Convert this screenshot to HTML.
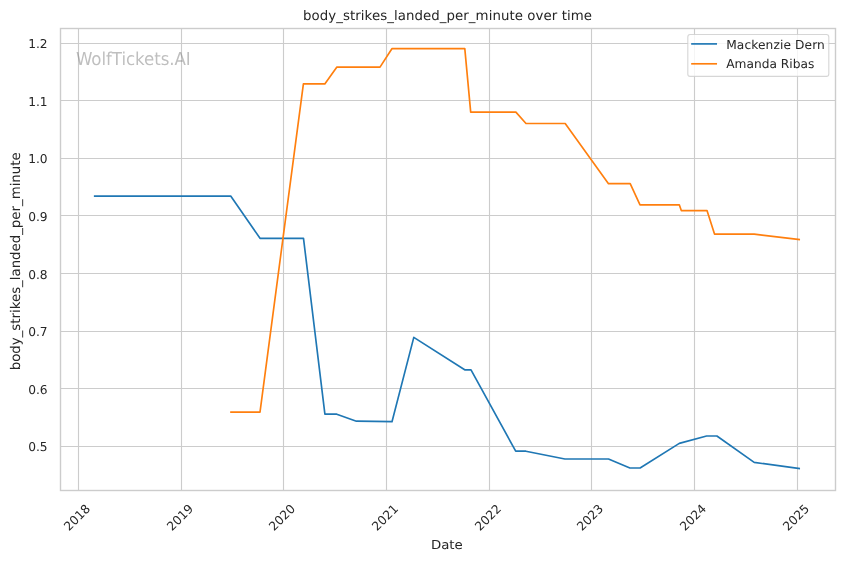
<!DOCTYPE html>
<html><head><meta charset="utf-8"><title>body_strikes_landed_per_minute over time</title>
<style>
html,body{margin:0;padding:0;background:#fff;}
body{width:844px;height:561px;overflow:hidden;}
svg{display:block;will-change:transform;}
text{text-rendering:geometricPrecision;font-family:"DejaVu Sans","Liberation Sans",sans-serif;fill:#262626;}
.t{font-size:12.22px;}
.l{font-size:13.33px;}
</style></head><body>
<svg width="844" height="561" viewBox="0 0 844 561">
<rect width="844" height="561" fill="#fff"/>
<g stroke="#cccccc" stroke-width="1.11" fill="none">
<line x1="78.5" y1="28.5" x2="78.5" y2="490.5"/>
<line x1="181.5" y1="28.5" x2="181.5" y2="490.5"/>
<line x1="283.5" y1="28.5" x2="283.5" y2="490.5"/>
<line x1="386.5" y1="28.5" x2="386.5" y2="490.5"/>
<line x1="489.5" y1="28.5" x2="489.5" y2="490.5"/>
<line x1="591.5" y1="28.5" x2="591.5" y2="490.5"/>
<line x1="694.5" y1="28.5" x2="694.5" y2="490.5"/>
<line x1="797.5" y1="28.5" x2="797.5" y2="490.5"/>
<line x1="60.5" y1="43.5" x2="835.5" y2="43.5"/>
<line x1="60.5" y1="100.5" x2="835.5" y2="100.5"/>
<line x1="60.5" y1="158.5" x2="835.5" y2="158.5"/>
<line x1="60.5" y1="215.5" x2="835.5" y2="215.5"/>
<line x1="60.5" y1="273.5" x2="835.5" y2="273.5"/>
<line x1="60.5" y1="331.5" x2="835.5" y2="331.5"/>
<line x1="60.5" y1="388.5" x2="835.5" y2="388.5"/>
<line x1="60.5" y1="446.5" x2="835.5" y2="446.5"/>
</g>
<polyline points="94.7,196.1 230.7,196.1 260.0,238.3 303.5,238.3 324.9,414.2 336.8,414.2 356.4,421.2 392.0,421.7 413.8,337.4 464.7,369.8 471.0,369.8 515.7,451.2 525.9,451.2 564.9,459.0 608.5,459.0 629.9,468.0 640.1,468.0 679.3,443.4 706.6,436.0 716.9,436.0 754.2,462.4 799.2,468.5" fill="none" stroke="#1f77b4" stroke-width="1.67" stroke-linecap="square" stroke-linejoin="round"/>
<polyline points="231.0,412.1 260.0,412.1 303.4,83.9 324.8,83.9 336.9,67.1 380.0,67.1 391.9,48.7 464.8,48.7 470.7,112.1 515.9,112.1 526.0,123.5 565.2,123.5 608.5,183.7 630.2,183.7 640.0,204.8 679.3,204.8 681.3,210.6 707.0,210.6 714.5,234.1 754.2,234.1 799.2,239.6" fill="none" stroke="#ff7f0e" stroke-width="1.67" stroke-linecap="square" stroke-linejoin="round"/>
<rect x="60.5" y="28.5" width="775.0" height="462.0" fill="none" stroke="#cccccc" stroke-width="1.39"/>
<text transform="translate(75.9,65.1) scale(1,1.07)" font-size="16.67px" style="fill:#808080" opacity="0.5" letter-spacing="-0.07">WolfTickets.AI</text>
<text class="l" x="447.5" y="20" text-anchor="middle" letter-spacing="0.07">body_strikes_landed_per_minute over time</text>
<text class="t" x="47.6" y="48.0" text-anchor="end">1.2</text>
<text class="t" x="47.6" y="105.6" text-anchor="end">1.1</text>
<text class="t" x="47.6" y="163.0" text-anchor="end">1.0</text>
<text class="t" x="47.6" y="221.0" text-anchor="end">0.9</text>
<text class="t" x="47.6" y="278.6" text-anchor="end">0.8</text>
<text class="t" x="47.6" y="336.0" text-anchor="end">0.7</text>
<text class="t" x="47.6" y="393.7" text-anchor="end">0.6</text>
<text class="t" x="47.6" y="451.0" text-anchor="end">0.5</text>
<text class="t" transform="translate(77.0,517.3) rotate(-45)" x="0" y="4.4" text-anchor="middle">2018</text>
<text class="t" transform="translate(180.0,517.3) rotate(-45)" x="0" y="4.4" text-anchor="middle">2019</text>
<text class="t" transform="translate(282.0,517.3) rotate(-45)" x="0" y="4.4" text-anchor="middle">2020</text>
<text class="t" transform="translate(385.0,517.3) rotate(-45)" x="0" y="4.4" text-anchor="middle">2021</text>
<text class="t" transform="translate(488.0,517.3) rotate(-45)" x="0" y="4.4" text-anchor="middle">2022</text>
<text class="t" transform="translate(590.0,517.3) rotate(-45)" x="0" y="4.4" text-anchor="middle">2023</text>
<text class="t" transform="translate(693.0,517.3) rotate(-45)" x="0" y="4.4" text-anchor="middle">2024</text>
<text class="t" transform="translate(796.0,517.3) rotate(-45)" x="0" y="4.4" text-anchor="middle">2025</text>
<text class="l" transform="translate(446.8,548.9) scale(1,0.93)" text-anchor="middle">Date</text>
<text class="l" transform="translate(19.8,261.3) rotate(-90)" text-anchor="middle">body_strikes_landed_per_minute</text>
<rect x="687.8" y="34.5" width="141.0" height="41.9" rx="2.4" ry="2.4" fill="#ffffff" fill-opacity="0.8" stroke="#cccccc" stroke-opacity="0.8" stroke-width="1.11"/>
<line x1="692" y1="43.9" x2="716.2" y2="43.9" stroke="#1f77b4" stroke-width="1.67" stroke-linecap="square"/>
<line x1="692" y1="63.8" x2="716.2" y2="63.8" stroke="#ff7f0e" stroke-width="1.67" stroke-linecap="square"/>
<text class="t" x="726.2" y="48.8" letter-spacing="0.1">Mackenzie Dern</text>
<text class="t" x="726.2" y="67.8">Amanda Ribas</text>
</svg></body></html>
